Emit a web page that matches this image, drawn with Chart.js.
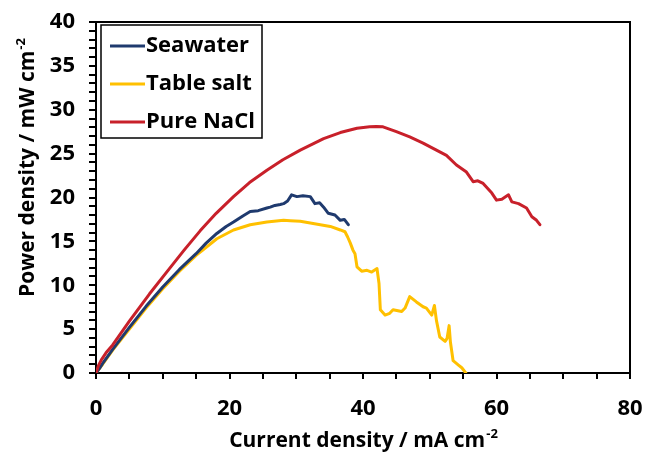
<!DOCTYPE html>
<html>
<head>
<meta charset="utf-8">
<script src="https://cdn.jsdelivr.net/npm/chart.js@4/dist/chart.umd.min.js"></script>
<style>
  html, body { margin: 0; padding: 0; background: #fff; }
  #wrap { width: 648px; height: 454px; }
</style>
</head>
<body>
<div id="wrap"><canvas id="c" width="648" height="454"></canvas></div>
<script>
// Power density curves of three electrolyte feeds (current density in mA cm-2, power in mW cm-2)
const seawaterX = [0, 0.5, 1.0, 2.5, 5.0, 7.5, 10.0, 12.5, 15.0, 16.5, 18.1, 19.5, 20.6, 22.0, 23.1, 24.3, 25.6, 26.1, 26.8, 27.6, 28.1, 28.7, 29.3, 30.1, 31.0, 32.1, 32.8, 33.5, 34.1, 34.8, 35.8, 36.6, 37.2, 37.8];
const seawaterY = [0, 0.5, 1.1, 2.7, 5.2, 7.6, 9.8, 11.8, 13.6, 14.8, 15.9, 16.7, 17.2, 17.9, 18.4, 18.5, 18.8, 18.9, 19.1, 19.2, 19.3, 19.6, 20.3, 20.1, 20.2, 20.1, 19.3, 19.4, 18.9, 18.2, 18.0, 17.4, 17.5, 16.9];

const tableSaltX = [0, 0.5, 1.0, 2.5, 5.0, 7.5, 10.0, 12.5, 15.0, 16.0, 18.1, 20.6, 23.1, 25.6, 28.1, 29.1, 30.6, 32.1, 35.1, 36.6, 37.3, 37.7, 38.1, 38.5, 38.8, 39.1, 39.8, 40.6, 41.3, 42.1, 42.4, 42.6, 43.3, 44.0, 44.5, 45.8, 46.3, 47.0, 48.0, 49.0, 49.5, 50.3, 50.7, 51.0, 51.5, 52.3, 52.6, 52.9, 53.1, 53.5, 54.3, 54.8, 55.4];
const tableSaltY = [0, 0.5, 1.0, 2.6, 5.0, 7.4, 9.6, 11.6, 13.4, 14.0, 15.3, 16.3, 16.9, 17.2, 17.4, 17.35, 17.3, 17.1, 16.7, 16.3, 16.1, 15.5, 14.8, 14.0, 13.6, 12.1, 11.6, 11.7, 11.5, 11.9, 10.2, 7.2, 6.6, 6.8, 7.2, 7.0, 7.4, 8.7, 8.1, 7.55, 7.4, 6.6, 7.7, 6.0, 4.1, 3.6, 3.95, 5.4, 3.5, 1.4, 0.9, 0.6, 0];

const pureNaClX = [0, 0.4, 0.8, 1.5, 2.5, 5.0, 8.0, 11.0, 13.2, 15.6, 18.0, 20.6, 23.0, 25.6, 28.0, 30.6, 32.5, 34.1, 36.6, 39.1, 41.0, 42.0, 43.0, 45.0, 47.0, 49.0, 51.0, 52.5, 54.0, 55.5, 56.5, 57.2, 58.0, 59.3, 60.0, 60.8, 61.8, 62.3, 63.3, 64.5, 65.3, 66.0, 66.5];
const pureNaClY = [0, 0.9, 1.5, 2.3, 3.2, 5.9, 9.0, 11.9, 14.0, 16.2, 18.2, 20.1, 21.7, 23.1, 24.3, 25.4, 26.1, 26.7, 27.4, 27.9, 28.05, 28.1, 28.05, 27.5, 26.9, 26.2, 25.4, 24.8, 23.7, 22.9, 21.8, 21.9, 21.6, 20.5, 19.7, 19.8, 20.3, 19.5, 19.3, 18.8, 17.8, 17.4, 16.9];

const seriesNames = ['Seawater', 'Table salt', 'Pure NaCl'];
const seriesColors = ['#1F3A6E', '#FFC000', '#C8202A'];
const xTickLabels = [0, 20, 40, 60, 80];
const yTickLabels = [0, 5, 10, 15, 20, 25, 30, 35, 40];
const xTitle = ['Current density / mA cm', '-2'];
const yTitle = ['Power density / mW cm', '-2'];

const FONT = "'Open Sans', 'DejaVu Sans', sans-serif";
const pts = (xs, ys) => xs.map((x, i) => ({ x: x, y: ys[i] }));

// frame on the top and right sides of the plot area
const framePlugin = {
  id: 'frame',
  afterDraw(chart) {
    const a = chart.chartArea, ctx = chart.ctx;
    ctx.save();
    ctx.strokeStyle = '#000';
    ctx.lineWidth = 2;
    ctx.beginPath();
    ctx.moveTo(a.left, a.top);
    ctx.lineTo(a.right, a.top);
    ctx.lineTo(a.right, a.bottom);
    ctx.stroke();
    ctx.restore();
  }
};

// axis titles with a raised exponent on the unit
function drawSupText(ctx, parts, cx, cy) {
  const main = 'bold 21px ' + FONT, sup = 'bold 13px ' + FONT;
  ctx.font = main;
  const w1 = ctx.measureText(parts[0]).width;
  ctx.font = sup;
  const w2 = ctx.measureText(parts[1]).width;
  let x = cx - (w1 + w2) / 2;
  ctx.textBaseline = 'alphabetic';
  ctx.textAlign = 'left';
  ctx.font = main;
  ctx.fillText(parts[0], x, cy + 7);
  ctx.font = sup;
  ctx.fillText(parts[1], x + w1 + 1, cy - 2);
}
const axisTitles = {
  id: 'axisTitles',
  afterDraw(chart) {
    const a = chart.chartArea, ctx = chart.ctx;
    ctx.save();
    ctx.fillStyle = '#000';
    drawSupText(ctx, xTitle, (a.left + a.right) / 2, 440);
    ctx.translate(27, 168);
    ctx.rotate(-Math.PI / 2);
    drawSupText(ctx, yTitle, 0, 0);
    ctx.restore();
  }
};

// boxed legend inside the upper-left corner of the plot
const boxLegend = {
  id: 'boxLegend',
  afterDraw(chart) {
    const a = chart.chartArea, ctx = chart.ctx;
    const bx = a.left + 5, by = a.top + 3, bw = 161, bh = 113;
    ctx.save();
    ctx.fillStyle = '#fff';
    ctx.fillRect(bx, by, bw, bh);
    ctx.strokeStyle = '#000';
    ctx.lineWidth = 1.5;
    ctx.strokeRect(bx, by, bw, bh);
    ctx.font = 'bold 22px ' + FONT;
    ctx.textBaseline = 'middle';
    chart.data.datasets.forEach((ds, i) => {
      const yy = by + 21 + i * 38;
      ctx.strokeStyle = ds.borderColor;
      ctx.lineWidth = 3;
      ctx.beginPath();
      ctx.moveTo(bx + 9, yy);
      ctx.lineTo(bx + 44, yy);
      ctx.stroke();
      ctx.fillStyle = '#000';
      ctx.fillText(ds.label, bx + 45, yy);
    });
    ctx.restore();
  }
};

const datasets = [
  { label: seriesNames[0], data: pts(seawaterX, seawaterY), borderColor: seriesColors[0], order: 1 },
  { label: seriesNames[1], data: pts(tableSaltX, tableSaltY), borderColor: seriesColors[1], order: 2 },
  { label: seriesNames[2], data: pts(pureNaClX, pureNaClY), borderColor: seriesColors[2], order: 0 }
].map(d => Object.assign(d, {
  showLine: true, pointRadius: 0, borderWidth: 3, tension: 0, fill: false,
  backgroundColor: d.borderColor, borderJoinStyle: 'round', borderCapStyle: 'round'
}));

new Chart(document.getElementById('c'), {
  type: 'scatter',
  data: { datasets: datasets },
  plugins: [framePlugin, axisTitles, boxLegend],
  options: {
    responsive: false,
    animation: false,
    layout: { padding: { left: 0, right: 18, top: 22, bottom: 0 } },
    plugins: { legend: { display: false }, tooltip: { enabled: false } },
    scales: {
      x: {
        type: 'linear', min: 0, max: 80,
        afterFit(s) { s.height = 81; s.paddingLeft = 0; s.paddingRight = 0; },
        ticks: {
          stepSize: 5, autoSkip: false, maxRotation: 0, padding: 17,
          color: '#000', font: { family: FONT, size: 22, weight: 'bold' },
          callback: v => (xTickLabels.includes(v) ? String(v) : '')
        },
        grid: { display: true, drawOnChartArea: false, drawTicks: true, tickLength: 6, color: '#000', lineWidth: 2 },
        border: { display: true, color: '#000', width: 2 }
      },
      y: {
        type: 'linear', min: 0, max: 40,
        afterFit(s) { s.width = 96; s.paddingTop = 0; s.paddingBottom = 0; },
        ticks: {
          stepSize: 1, autoSkip: false, padding: 14,
          color: '#000', font: { family: FONT, size: 22, weight: 'bold' },
          callback: v => (yTickLabels.includes(v) ? String(v) : '')
        },
        grid: { display: true, drawOnChartArea: false, drawTicks: true, tickLength: 7, color: '#000', lineWidth: 2 },
        border: { display: true, color: '#000', width: 2 }
      }
    }
  }
});
</script>
</body>
</html>
